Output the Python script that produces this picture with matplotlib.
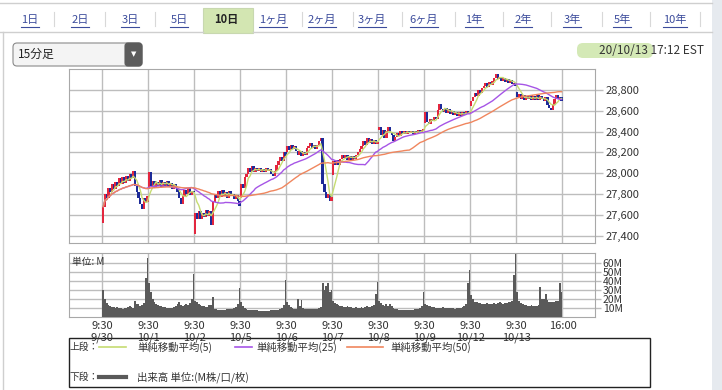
import numpy as np
import pandas as pd
import matplotlib
matplotlib.use("Agg")
import matplotlib.pyplot as plt
from matplotlib.patches import Rectangle, FancyBboxPatch
import matplotlib.ticker as mtick

plt.rcParams['font.family'] = ['Noto Sans CJK JP', 'DejaVu Sans']

# --- data (15分足, 10日) ---
days = ['9/30', '10/1', '10/2', '10/5', '10/6', '10/7', '10/8', '10/9', '10/12', '10/13']
day_open = [27520, 27850, 27420, 27760, 28200, 27980, 28420, 28480, 28650, 28780]

c_0930 = [27680, 27800, 27760, 27860, 27820, 27900, 27850, 27920, 27880, 27950, 27900, 27960, 27910,
          27970, 27930, 27990, 27950, 28020, 27880, 27820, 27760, 27700, 27660, 27760, 27720, 27780]
c_1001 = [28010, 27880, 27930, 27860, 27920, 27880, 27940, 27870, 27920, 27880, 27930, 27870, 27910,
          27850, 27900, 27860, 27820, 27760, 27700, 27780, 27840, 27800, 27860, 27790, 27830, 27817]
c_1002 = [27620, 27560, 27640, 27560, 27620, 27580, 27650, 27590, 27640, 27500, 27720, 27800, 27760,
          27830, 27770, 27840, 27780, 27820, 27760, 27830, 27780, 27800, 27750, 27790, 27730, 27683]
c_1005 = [27900, 27860, 27960, 27990, 28050, 28010, 28070, 28010, 28050, 28020, 28050, 28010, 28045,
          28015, 28050, 28020, 28040, 27990, 27970, 28020, 28080, 28120, 28160, 28120, 28200, 28170]
c_1006 = [28260, 28220, 28270, 28230, 28260, 28210, 28180, 28210, 28170, 28200, 28180, 28240, 28260,
          28290, 28240, 28270, 28230, 28270, 28310, 28340, 27900, 27820, 27760, 27800, 27730, 27773]
c_1007 = [28120, 28080, 28130, 28080, 28140, 28180, 28150, 28180, 28130, 28170, 28130, 28170, 28140,
          28180, 28200, 28230, 28260, 28310, 28270, 28340, 28290, 28330, 28280, 28320, 28280, 28303]
c_1008 = [28440, 28370, 28420, 28340, 28410, 28440, 28400, 28370, 28310, 28350, 28390, 28360, 28410,
          28380, 28405, 28375, 28410, 28385, 28410, 28380, 28405, 28385, 28415, 28395, 28420, 28425]
c_1009 = [28590, 28490, 28470, 28520, 28500, 28540, 28520, 28610, 28670, 28620, 28590, 28630, 28580,
          28620, 28570, 28600, 28560, 28590, 28555, 28585, 28550, 28590, 28560, 28600, 28580, 28587]
c_1012 = [28690, 28730, 28770, 28740, 28800, 28770, 28820, 28840, 28870, 28830, 28880, 28850, 28890,
          28920, 28950, 28910, 28930, 28890, 28920, 28880, 28910, 28870, 28900, 28860, 28870, 28838]
c_1013 = [28730, 28760, 28710, 28750, 28700, 28740, 28710, 28750, 28700, 28740, 28705, 28750, 28700,
          28740, 28710, 28690, 28730, 28660, 28630, 28610, 28660, 28710, 28750, 28710, 28730, 28690]

# 出来高 (M)
v_0930 = [30, 20, 15, 13, 12, 11, 11, 10, 11, 10, 10, 9, 10, 10, 11, 12, 11, 10, 18, 14, 14, 12, 13, 15, 44, 66]
v_1001 = [38, 28, 20, 16, 14, 13, 12, 12, 11, 11, 10, 10, 10, 10, 11, 12, 14, 16, 13, 12, 13, 14, 13, 15, 20, 48]
v_1002 = [18, 16, 14, 13, 12, 12, 11, 11, 13, 13, 22, 9, 9, 8, 8, 8, 8, 8, 9, 9, 9, 9, 10, 11, 14, 32]
v_1005 = [16, 12, 10, 9, 8, 8, 7, 7, 7, 7, 6, 6, 6, 6, 6, 6, 6, 7, 7, 7, 8, 8, 9, 10, 13, 41]
v_1006 = [16, 13, 11, 10, 9, 9, 20, 12, 19, 10, 9, 9, 9, 9, 9, 9, 9, 9, 10, 11, 38, 30, 34, 38, 28, 30]
v_1007 = [18, 15, 14, 13, 12, 12, 11, 11, 12, 11, 11, 10, 10, 11, 10, 10, 11, 10, 11, 12, 11, 11, 12, 13, 25, 39]
v_1008 = [18, 15, 13, 12, 14, 12, 14, 12, 10, 9, 9, 8, 8, 8, 8, 8, 8, 8, 8, 8, 9, 9, 9, 10, 12, 28]
v_1009 = [14, 13, 12, 12, 11, 11, 10, 10, 10, 10, 11, 10, 10, 10, 10, 10, 10, 9, 10, 10, 10, 11, 12, 14, 38, 52]
v_1012 = [24, 20, 17, 16, 15, 15, 14, 14, 14, 15, 14, 14, 14, 15, 14, 15, 16, 15, 14, 15, 15, 16, 16, 18, 47, 70]
v_1013 = [28, 18, 15, 14, 13, 13, 12, 12, 13, 12, 12, 12, 13, 33, 20, 20, 25, 19, 17, 16, 16, 17, 18, 18, 38, 28]

closes_by_day = [c_0930, c_1001, c_1002, c_1005, c_1006, c_1007, c_1008, c_1009, c_1012, c_1013]
vols_by_day = [v_0930, v_1001, v_1002, v_1005, v_1006, v_1007, v_1008, v_1009, v_1012, v_1013]

price_ticks = [27400, 27600, 27800, 28000, 28200, 28400, 28600, 28800]
vol_ticks = [10, 20, 30, 40, 50, 60]

tabs = ['1日', '2日', '3日', '5日', '10日', '1ヶ月', '2ヶ月', '3ヶ月', '6ヶ月', '1年', '2年', '3年', '5年', '10年']
tab_x = [30, 80, 130, 179, 226, 273, 322, 372, 424, 474, 523, 572, 622, 675]
sep_x = [54, 105, 155, 302, 353, 402, 455, 503, 551, 602, 650, 700]

# --- build series ---
close = np.concatenate(closes_by_day).astype(float)
opens = []
for d_open, cl in zip(day_open, closes_by_day):
    opens += [d_open] + cl[:-1]
opens = np.array(opens, dtype=float)
vol = np.concatenate(vols_by_day).astype(float)
n = len(close)
xs = np.arange(n) + 0.5

s = pd.Series(close)
ma5 = s.rolling(5, min_periods=1).mean()
ma25 = s.rolling(25, min_periods=1).mean()
ma50 = s.rolling(50, min_periods=1).mean()

W, H = 722, 390
fig = plt.figure(figsize=(W / 100, H / 100), dpi=100)


def px_rect(x0, y0, x1, y1):
    return [x0 / W, 1 - y1 / H, (x1 - x0) / W, (y1 - y0) / H]


bg = fig.add_axes([0, 0, 1, 1])
bg.set_xlim(0, W)
bg.set_ylim(H, 0)
bg.axis('off')

# frame / panels
bg.add_patch(Rectangle((712, 0), 10, H, color='#e6eaef', lw=0))
bg.plot([0, 712], [3, 3], color='#cfcfcf', lw=1)
bg.plot([0, 203], [32, 32], color='#cfcfcf', lw=1)
bg.plot([253, 712], [32, 32], color='#cfcfcf', lw=1)
bg.plot([3, 3], [32, H], color='#cfcfcf', lw=1)
bg.add_patch(Rectangle((203, 8), 50, 24.5, facecolor='#d3e6b2', edgecolor='#c8d8b0', lw=0.8))

for sx in sep_x:
    bg.plot([sx, sx], [12, 26], color='#d8d8d8', lw=0.8)

fig.canvas.draw()
rend = fig.canvas.get_renderer()
for label, tx in zip(tabs, tab_x):
    if label == '10日':
        bg.text(tx, 19.5, label, ha='center', va='center', fontsize=8, fontweight='bold', color='#222222')
        continue
    t = bg.text(tx, 19.5, label, ha='center', va='center', fontsize=8, color='#3c4c9c')
    bb = t.get_window_extent(rend)
    bg.plot([bb.x0 * W / fig.bbox.width, bb.x1 * W / fig.bbox.width], [26.5, 26.5], color='#3c4c9c', lw=0.8)

# dropdown
bg.add_patch(FancyBboxPatch((13, 43), 129, 23, boxstyle='round,pad=0,rounding_size=4',
                            facecolor='#f4f4f4', edgecolor='#8a8a8a', lw=0.8))
bg.add_patch(FancyBboxPatch((125, 43), 17, 23, boxstyle='round,pad=0,rounding_size=3',
                            facecolor='#5c5c5c', edgecolor='#5c5c5c', lw=0.8))
bg.text(133.5, 54.5, '▼', ha='center', va='center', fontsize=5, color='white', family='DejaVu Sans')
bg.text(18, 54.5, '15分足', ha='left', va='center', fontsize=8.5, color='#222222')

# timestamp
bg.add_patch(FancyBboxPatch((577, 43), 76, 15, boxstyle='round,pad=0,rounding_size=6',
                            facecolor='#d4e9b6', edgecolor='none'))
bg.text(704, 50.5, '20/10/13 17:12 EST', ha='right', va='center', fontsize=8.5, color='#333333')

# --- price panel ---
ax = fig.add_axes(px_rect(69, 68.5, 594.5, 243.3))
up = close >= opens
body = np.maximum(np.abs(close - opens), 10)
ax.bar(xs, body, bottom=np.minimum(opens, close), width=1.3,
       color=np.where(up, '#e3263e', '#1d2b98'), linewidth=0, zorder=3)
ax.plot(xs, ma5, color='#c6dc72', lw=1.0, zorder=4)
ax.plot(xs, ma25, color='#a655e6', lw=1.0, zorder=4)
ax.plot(xs, ma50, color='#f0865e', lw=1.0, zorder=4)

day_ticks = list(range(0, n + 1, 26))
ax.set_xlim(-18.8, 278.1)
ax.set_ylim(27327, 29007)
ax.set_xticks(day_ticks)
ax.set_yticks(price_ticks)
ax.yaxis.set_major_formatter(mtick.StrMethodFormatter('{x:,.0f}'))
ax.grid(True, color='#bdbdbd', lw=1.0, zorder=0)
ax.tick_params(axis='x', length=0, labelbottom=False)
ax.tick_params(axis='y', left=False, labelleft=False, right=True, labelright=True,
               length=6, width=1, color='#bdbdbd', labelsize=8, labelcolor='#333333', pad=2)
for sp in ax.spines.values():
    sp.set_color('#a8a8a8')

# --- volume panel ---
axv = fig.add_axes(px_rect(69, 252.7, 594.5, 316.7))
axv.bar(xs, vol, width=1.0, color='#5a5a5a', linewidth=0, zorder=3)
axv.set_xlim(-18.8, 278.1)
axv.set_ylim(0, 72)
axv.set_yticks(vol_ticks)
axv.yaxis.set_major_formatter(mtick.StrMethodFormatter('{x:.0f}M'))
axv.set_xticks(day_ticks)
axv.set_xticklabels(['9:30\n' + d for d in days] + ['16:00'])
axv.grid(True, color='#bdbdbd', lw=1.0, zorder=0)
axv.tick_params(axis='x', length=0, labelsize=8, labelcolor='#333333', pad=3)
axv.tick_params(axis='y', left=False, labelleft=False, right=True, labelright=True,
                length=4, width=1, color='#bdbdbd', labelsize=7.5, labelcolor='#333333', pad=2)
for sp in axv.spines.values():
    sp.set_color('#a8a8a8')
axv.text(0.006, 0.93, '単位: M', transform=axv.transAxes, ha='left', va='top', fontsize=7, color='#333333')

# --- legend box ---
bg.add_patch(Rectangle((69, 338), 581, 48.7, facecolor='white', edgecolor='#222222', lw=1))
bg.text(70, 347, '上段：', ha='left', va='center', fontsize=7, color='#333333')
legend_items = [(99, 126, 137, '#c6dc72', '単純移動平均(5)'),
                (235, 252, 256, '#a655e6', '単純移動平均(25)'),
                (347, 383, 390, '#f0865e', '単純移動平均(50)')]
for x0, x1, tx, col, lab in legend_items:
    bg.plot([x0, x1], [347, 347], color=col, lw=1.2)
    bg.text(tx, 347, lab, ha='left', va='center', fontsize=7.5, color='#333333')
bg.text(70, 377, '下段：', ha='left', va='center', fontsize=7, color='#333333')
bg.plot([99, 126], [377, 377], color='#5a5a5a', lw=3)
bg.text(137, 377, '出来高 単位:(M株/口/枚)', ha='left', va='center', fontsize=7.5, color='#333333')

fig.savefig('out.png', dpi=100)
